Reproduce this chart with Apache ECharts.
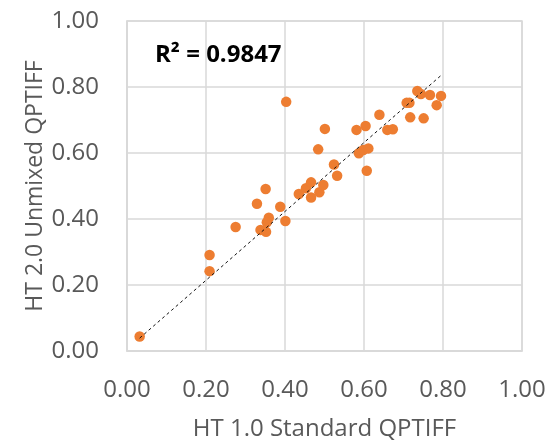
<!DOCTYPE html>
<html>
<head>
<meta charset="utf-8">
<script src="https://cdn.jsdelivr.net/npm/echarts@6/dist/echarts.min.js"></script>
<style>
html,body{margin:0;padding:0;background:#fff;}
#chart{width:557px;height:442px;}
</style>
</head>
<body>
<div id="chart"></div>
<script>
// HT 1.0 Standard QPTIFF values
const xValues = [0.032,0.209,0.209,0.275,0.329,0.351,0.338,0.352,0.359,0.354,0.388,0.401,0.403,0.435,0.453,0.466,0.466,0.487,0.497,0.484,0.501,0.524,0.532,0.581,0.604,0.587,0.598,0.611,0.607,0.639,0.659,0.673,0.708,0.715,0.717,0.735,0.744,0.767,0.795,0.784,0.751];
// HT 2.0 Unmixed QPTIFF values
const yValues = [0.044,0.291,0.242,0.376,0.446,0.491,0.367,0.361,0.404,0.390,0.437,0.394,0.755,0.476,0.493,0.511,0.465,0.481,0.503,0.611,0.673,0.565,0.531,0.670,0.682,0.599,0.609,0.614,0.546,0.716,0.670,0.672,0.752,0.752,0.708,0.788,0.779,0.776,0.773,0.745,0.705];
// Linear trend line endpoints
const trendX = [0.032, 0.795];
const trendY = [0.039, 0.835];
const tickLabels = ['0.00','0.20','0.40','0.60','0.80','1.00'];
const r2Text = 'R² = 0.9847';

const points = xValues.map((x, i) => [x, yValues[i]]);
const trend = trendX.map((x, i) => [x, trendY[i]]);

const gridColor = '#d9d9d9';
const labelColor = '#595959';
const font = '"Open Sans", "Liberation Sans", sans-serif';

function fmt(v){ return tickLabels[Math.round(v / 0.2)] || v.toFixed(2); }

const chart = echarts.init(document.getElementById('chart'), null, {renderer:'canvas'});
chart.setOption({
  animation: false,
  backgroundColor: '#fff',
  grid: {left: 127, right: 35, top: 21, bottom: 91, show: true, borderColor: gridColor, borderWidth: 1.5,
         containLabel: false, outerBoundsMode: 'none'},
  xAxis: {
    type: 'value', min: 0, max: 1, interval: 0.2,
    name: 'HT 1.0 Standard QPTIFF', nameLocation: 'middle', nameGap: 66, nameMoveOverlap: false,
    nameTextStyle: {color: labelColor, fontSize: 24, fontFamily: font},
    axisLine: {show: true, lineStyle: {color: gridColor, width: 1.5}},
    axisTick: {show: false},
    axisLabel: {color: labelColor, fontSize: 24, fontFamily: font, margin: 27, formatter: fmt},
    splitLine: {show: true, lineStyle: {color: gridColor, width: 1.5}}
  },
  yAxis: {
    type: 'value', min: 0, max: 1, interval: 0.2,
    name: 'HT 2.0 Unmixed QPTIFF', nameLocation: 'middle', nameGap: 80, nameMoveOverlap: false,
    nameTextStyle: {color: labelColor, fontSize: 23, fontFamily: font},
    axisLine: {show: true, lineStyle: {color: gridColor, width: 1.5}},
    axisTick: {show: false},
    axisLabel: {color: labelColor, fontSize: 24, fontFamily: font, margin: 28, formatter: fmt},
    splitLine: {show: true, lineStyle: {color: gridColor, width: 1.5}}
  },
  graphic: [{
    type: 'text', left: 155, top: 43, z: 10,
    style: {text: r2Text, fill: '#000', font: 'bold 24px ' + font}
  }],
  series: [
    {
      type: 'line', data: trend, symbol: 'none', z: 3,
      lineStyle: {color: '#111', width: 1, type: [3, 3]}
    },
    {
      type: 'scatter', data: points, symbol: 'circle', symbolSize: 10.5, z: 2,
      itemStyle: {color: '#ed7d31', opacity: 1}
    }
  ]
});
</script>
</body>
</html>
